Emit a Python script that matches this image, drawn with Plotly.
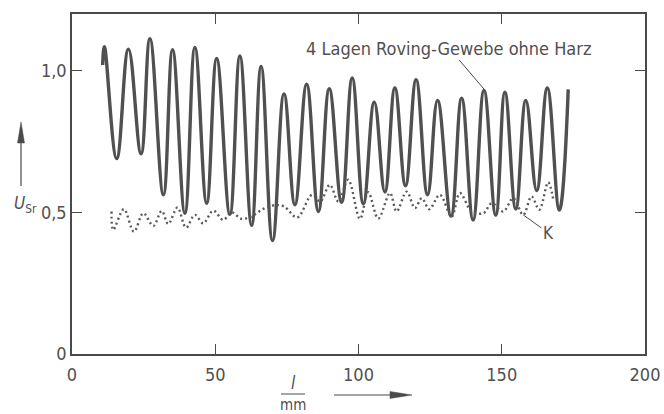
import plotly.graph_objects as go

# Solid curve: 4 Lagen Roving-Gewebe ohne Harz (extrema)
l_solid = [10.7, 11.3, 15.6, 19.7, 24.1, 27.2, 31.9, 35.1, 39.4, 42.9, 47.0, 50.5, 55.1,
           58.6, 62.7, 66.0, 70.0, 74.0, 77.8, 81.9, 86.0, 89.8, 94.1, 97.8, 101.7,
           105.5, 109.2, 112.7, 116.4, 120.1, 124.1, 127.6, 132.3, 136.0, 140.0, 143.8,
           147.9, 151.1, 154.9, 158.4, 162.2, 165.9, 170.1, 173.2]
u_solid = [1.02, 1.085, 0.69, 1.076, 0.707, 1.113, 0.562, 1.074, 0.497, 1.082, 0.532, 1.043, 0.493,
           1.052, 0.454, 1.015, 0.40, 0.918, 0.527, 0.952, 0.503, 0.936, 0.535, 0.974, 0.53,
           0.889, 0.572, 0.939, 0.594, 0.968, 0.562, 0.895, 0.487, 0.903, 0.473, 0.93,
           0.49, 0.924, 0.512, 0.895, 0.577, 0.939, 0.508, 0.934]

# Dotted curve K
l_k = [13.8, 14.4, 18.1, 21.6, 24.9, 28.4, 31.3, 33.6, 36.8, 39.8, 42.9, 45.8, 49.3, 52.8,
       55.7, 59.2, 62.3, 66.8, 70.5, 74.0, 78.6, 83.8, 86.6, 90.0, 93.0, 96.4, 100.5,
       103.4, 106.9, 111.0, 113.3, 116.8, 119.7, 122.1, 124.7, 128.4, 132.5, 135.4,
       139.5, 143.6, 146.5, 150.5, 154.0, 157.5, 160.4, 163.1, 166.2, 168.0]
u_k = [0.503, 0.438, 0.511, 0.432, 0.497, 0.452, 0.505, 0.459, 0.517, 0.446, 0.491, 0.461, 0.506, 0.473,
       0.500, 0.477, 0.484, 0.512, 0.525, 0.521, 0.482, 0.562, 0.538, 0.597, 0.538, 0.615, 0.477,
       0.571, 0.478, 0.568, 0.503, 0.573, 0.515, 0.55, 0.511, 0.562, 0.485, 0.568,
       0.503, 0.497, 0.532, 0.503, 0.55, 0.491, 0.556, 0.509, 0.606, 0.544]

x_ticks = [0, 50, 100, 150, 200]
x_ticktext = ["0", "50", "100", "150", "200"]
y_ticks = [0, 0.5, 1.0]
y_ticktext = ["0", "0,5", "1,0"]

FONT = "DejaVu Sans Condensed, Liberation Sans Narrow, Roboto Condensed, sans-serif"
INK = "#4a4a4a"
TXT = "#505050"

W, H = 664, 414
ML, MR, MT, MB = 72, 19, 14, 60
PW, PH = W - ML - MR, H - MT - MB


def px(xp):
    return (xp - ML) / PW


def py(yp):
    return (H - MB - yp) / PH


fig = go.Figure()
fig.add_trace(go.Scatter(x=l_solid, y=u_solid, mode="lines",
                         line=dict(color="#505050", width=3.4, shape="spline", smoothing=1.2),
                         hoverinfo="skip"))
fig.add_trace(go.Scatter(x=l_k, y=u_k, mode="lines",
                         line=dict(color="#5a5a5a", width=2.4, shape="spline", smoothing=1.0,
                                   dash="2px,3px"),
                         hoverinfo="skip"))

axis_common = dict(showgrid=False, zeroline=False, showline=True, linecolor=INK, linewidth=1.5,
                   mirror="ticks", ticks="inside", ticklen=10, tickwidth=1.2, tickcolor=INK,
                   automargin=False,
                   tickfont=dict(family=FONT, size=18, color=TXT))
fig.update_xaxes(range=[0, 200], tickvals=x_ticks, ticktext=x_ticktext,
                 ticklabelstandoff=4, **axis_common)
fig.update_yaxes(range=[0, 1.2], tickvals=y_ticks, ticktext=y_ticktext, **axis_common)

ann = []
# curve label with leader to a peak
ann.append(dict(x=143.8, y=0.935, xref="x", yref="y",
                text="4 Lagen Roving-Gewebe ohne Harz", showarrow=True,
                arrowhead=0, arrowwidth=1, arrowcolor=INK, ax=-35, ay=-41, standoff=0,
                xanchor="center", yanchor="middle",
                font=dict(family=FONT, size=18, color=TXT)))
# K label with leader
ann.append(dict(x=157.5, y=0.491, xref="x", yref="y", text="K", showarrow=True,
                arrowhead=0, arrowwidth=1, arrowcolor=INK, ax=25, ay=18, standoff=0,
                xanchor="center", yanchor="middle",
                font=dict(family=FONT, size=17, color=TXT)))
# y axis label
ann.append(dict(x=px(12), y=py(204), xref="paper", yref="paper", xanchor="left",
                yanchor="middle",
                text="<i>U</i><sub>Sr</sub>", showarrow=False,
                font=dict(family=FONT, size=17, color=TXT)))
# x axis label fraction
ann.append(dict(x=px(293), y=py(383), xref="paper", yref="paper",
                xanchor="center", yanchor="middle",
                text="<i>l</i>", showarrow=False,
                font=dict(family=FONT, size=17, color=TXT)))
ann.append(dict(x=px(293), y=py(405), xref="paper", yref="paper",
                xanchor="center", yanchor="middle",
                text="mm", showarrow=False,
                font=dict(family=FONT, size=15, color=TXT)))


def pline(x0, y0, x1, y1, w=1.2):
    return dict(type="line", xref="paper", yref="paper",
                x0=px(x0), x1=px(x1), y0=py(y0), y1=py(y1),
                line=dict(color=INK, width=w))


def ppath(pts):
    d = "M " + " L ".join(f"{px(a):.5f},{py(b):.5f}" for a, b in pts) + " Z"
    return dict(type="path", xref="paper", yref="paper", path=d,
                fillcolor=INK, line=dict(color=INK, width=0.5))


shapes = [
    pline(281, 394, 305, 394, 1),            # fraction bar
    pline(21, 186, 21, 140),                 # y arrow shaft
    ppath([(21, 122), (17.5, 143), (24.5, 143)]),  # y arrow head
    pline(334, 395, 392, 395),               # x arrow shaft
    ppath([(412, 395), (390, 391.5), (390, 398.5)]),  # x arrow head
]

fig.update_layout(
    width=W, height=H,
    margin=dict(l=ML, r=MR, t=MT, b=MB),
    paper_bgcolor="white", plot_bgcolor="white",
    showlegend=False,
    annotations=ann,
    shapes=shapes,
)

fig.write_html("out.html", config={"displayModeBar": False},
               post_script="document.body.style.margin='0';")
